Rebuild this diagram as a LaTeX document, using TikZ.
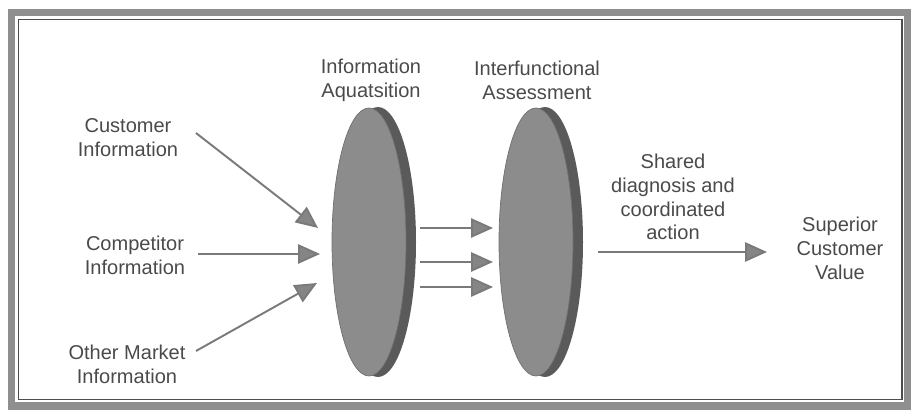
\documentclass[tikz,border=0pt]{standalone}
\usepackage{fontspec}
\setmainfont{Liberation Sans}
\usetikzlibrary{arrows.meta}
\definecolor{txt}{HTML}{4A4A4A}
\definecolor{arr}{HTML}{7A7A7A}
\definecolor{head}{HTML}{858585}
\definecolor{disc}{HTML}{8C8C8C}
\definecolor{rim}{HTML}{5A5A5A}
\definecolor{band}{HTML}{8F8F8F}
\tikzset{
  lbl/.style={align=center, text=txt, font=\fontsize{11.4}{13.6}\selectfont, inner sep=0pt},
  flow/.style={draw=arr, line width=1.1pt, -{Triangle[length=12.5pt,width=11pt,fill=head]}, shorten >=0pt},
  discface/.style={fill=disc, draw=disc!80!black, line width=0.4pt},
  discrim/.style={fill=rim, draw=none},
}
\begin{document}
\begin{tikzpicture}[x=0.02cm,y=-0.02cm]
\useasboundingbox (0,0) rectangle (914,415);
% frame
\draw[band, line width=4pt] (11.5,12.5) rectangle (907.5,406);
\draw[gray!60!black, line width=0.6pt] (18.5,19.5) rectangle (902,399.5);
% discs
\fill[discrim] (378,242) ellipse [x radius=38, y radius=135];
\draw[discface] (369,242) ellipse [x radius=37, y radius=134];
\node[inner sep=0pt, minimum width=74*0.02cm, minimum height=268*0.02cm] (ia) at (369,242) {};
\fill[discrim] (545,242) ellipse [x radius=38, y radius=135];
\draw[discface] (536,242) ellipse [x radius=37, y radius=134];
\node[inner sep=0pt, minimum width=74*0.02cm, minimum height=268*0.02cm] (ifa) at (536,242) {};
% labels
\node[lbl] (lia) at (371,80) {Information\\Aquatsition};
\node[lbl] (lifa) at (537,80) {Interfunctional\\Assessment};
\node[lbl] (cust) at (128,138) {Customer\\Information};
\node[lbl] (comp) at (135,255) {Competitor\\Information};
\node[lbl] (other) at (127,364) {Other Market\\Information};
\node[lbl] (shared) at (673,197) {Shared\\diagnosis and\\coordinated\\action};
\node[lbl] (sup) at (840,248) {Superior\\Customer\\Value};
% coordinates
\coordinate (c1s) at (196,133); \coordinate (c1e) at (318,228);
\coordinate (c2s) at (198,254); \coordinate (c2e) at (320,254);
\coordinate (c3s) at (196,351); \coordinate (c3e) at (317,283);
\coordinate (m1s) at (420,228); \coordinate (m1e) at (493,228);
\coordinate (m2s) at (420,262); \coordinate (m2e) at (493,262);
\coordinate (m3s) at (420,287); \coordinate (m3e) at (493,287);
\coordinate (rs) at (598,252); \coordinate (re) at (767,252);
% arrows
\draw[flow] (c1s) -- (c1e);
\draw[flow] (c2s) -- (c2e);
\draw[flow] (c3s) -- (c3e);
\draw[flow] (m1s) -- (m1e);
\draw[flow] (m2s) -- (m2e);
\draw[flow] (m3s) -- (m3e);
\draw[flow] (rs) -- (re);
\end{tikzpicture}
\end{document}
